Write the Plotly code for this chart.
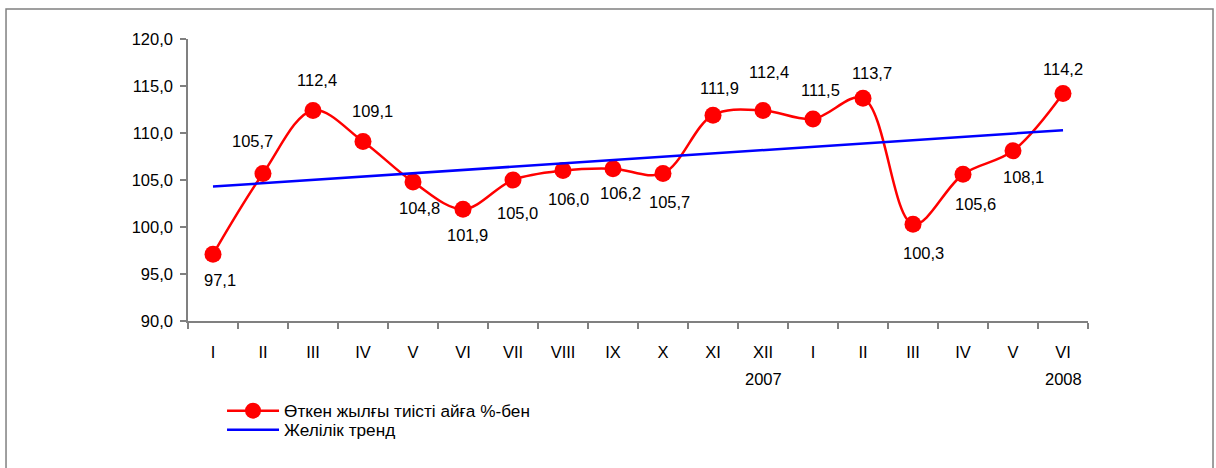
import plotly.graph_objects as go

months = ["I", "II", "III", "IV", "V", "VI", "VII", "VIII", "IX", "X", "XI", "XII",
          "I", "II", "III", "IV", "V", "VI"]
values = [97.1, 105.7, 112.4, 109.1, 104.8, 101.9, 105.0, 106.0, 106.2, 105.7,
          111.9, 112.4, 111.5, 113.7, 100.3, 105.6, 108.1, 114.2]
trend_ends = [104.3, 110.3]
year_labels = {12: "2007", 18: "2008"}
series_name = "Өткен жылғы тиісті айға %-бен"
trend_name = "Желілік тренд"

# label offsets (pixels) of each value label relative to its marker
label_dx = [7, -11, 4, 9, 6, 4, 4, 5, 7, 6, 6, 6, 7, 9, 10, 12, 10, 0]
label_dy = [26, -32, -30, -30, 26, 26, 33, 28, 24, 29, -27, -38, -29, -25, 29, 30, 26, -25]

x_idx = list(range(1, len(months) + 1))
FONT = "Arial, Liberation Sans, sans-serif"
FS = 16.5

fig = go.Figure()
fig.add_trace(go.Scatter(
    x=x_idx, y=values, name=series_name, mode="lines+markers",
    line=dict(color="#FF0000", width=2.5, shape="spline", smoothing=1.0),
    marker=dict(color="#FF0000", size=17),
    cliponaxis=False, legend="legend",
))
fig.add_trace(go.Scatter(
    x=[x_idx[0], x_idx[-1]], y=trend_ends, name=trend_name, mode="lines",
    line=dict(color="#0000FF", width=2.5), legend="legend2",
))

for xv, v, dx, dy in zip(x_idx, values, label_dx, label_dy):
    fig.add_annotation(x=xv, y=v, xref="x", yref="y",
                       text=f"{v:.1f}".replace(".", ","), showarrow=False,
                       xshift=dx, yshift=-dy,
                       font=dict(size=FS, color="#000000", family=FONT))

for xv, yr in year_labels.items():
    fig.add_annotation(x=xv, y=-0.2057, xref="x", yref="paper", text=yr,
                       showarrow=False, yanchor="middle",
                       font=dict(size=FS, color="#000000", family=FONT))

fig.add_shape(type="rect", xref="paper", yref="paper",
              x0=-0.2022, x1=1.1389, y0=-0.6, y1=1.1064,
              line=dict(color="#808080", width=1.5), layer="below")

legend_common = dict(xanchor="left", yanchor="middle", bgcolor="rgba(0,0,0,0)",
                     font=dict(size=17.2, family=FONT, color="#000000"), itemwidth=52)

fig.update_layout(
    width=1216, height=468,
    margin=dict(l=188, r=128, t=39, b=147),
    paper_bgcolor="white", plot_bgcolor="white",
    separators=", ",
    font=dict(family=FONT, size=FS, color="#000000"),
    showlegend=True,
    legend=dict(x=0.0378, y=-0.3191, **legend_common),
    legend2=dict(x=0.0378, y=-0.3865, **legend_common),
    xaxis=dict(
        range=[0.5, len(months) + 0.5],
        tickmode="array", tickvals=x_idx, ticktext=months,
        ticks="", showgrid=False, zeroline=False,
        showline=True, linecolor="#808080", linewidth=1.5,
        ticklabelstandoff=15,
        minor=dict(tickmode="array", tickvals=[i + 0.5 for i in range(0, len(months) + 1)],
                   ticks="outside", ticklen=6, tickcolor="#808080", tickwidth=1.5,
                   showgrid=False),
    ),
    yaxis=dict(
        range=[90, 120], dtick=5, tickformat=".1f",
        ticks="outside", ticklen=6, tickcolor="#808080", tickwidth=1.5,
        showgrid=False, zeroline=False,
        showline=True, linecolor="#808080", linewidth=1.5,
        ticklabelstandoff=4,
    ),
)

fig.write_html("out.html", config={"displayModeBar": False},
               post_script="document.body.style.margin='0';")
